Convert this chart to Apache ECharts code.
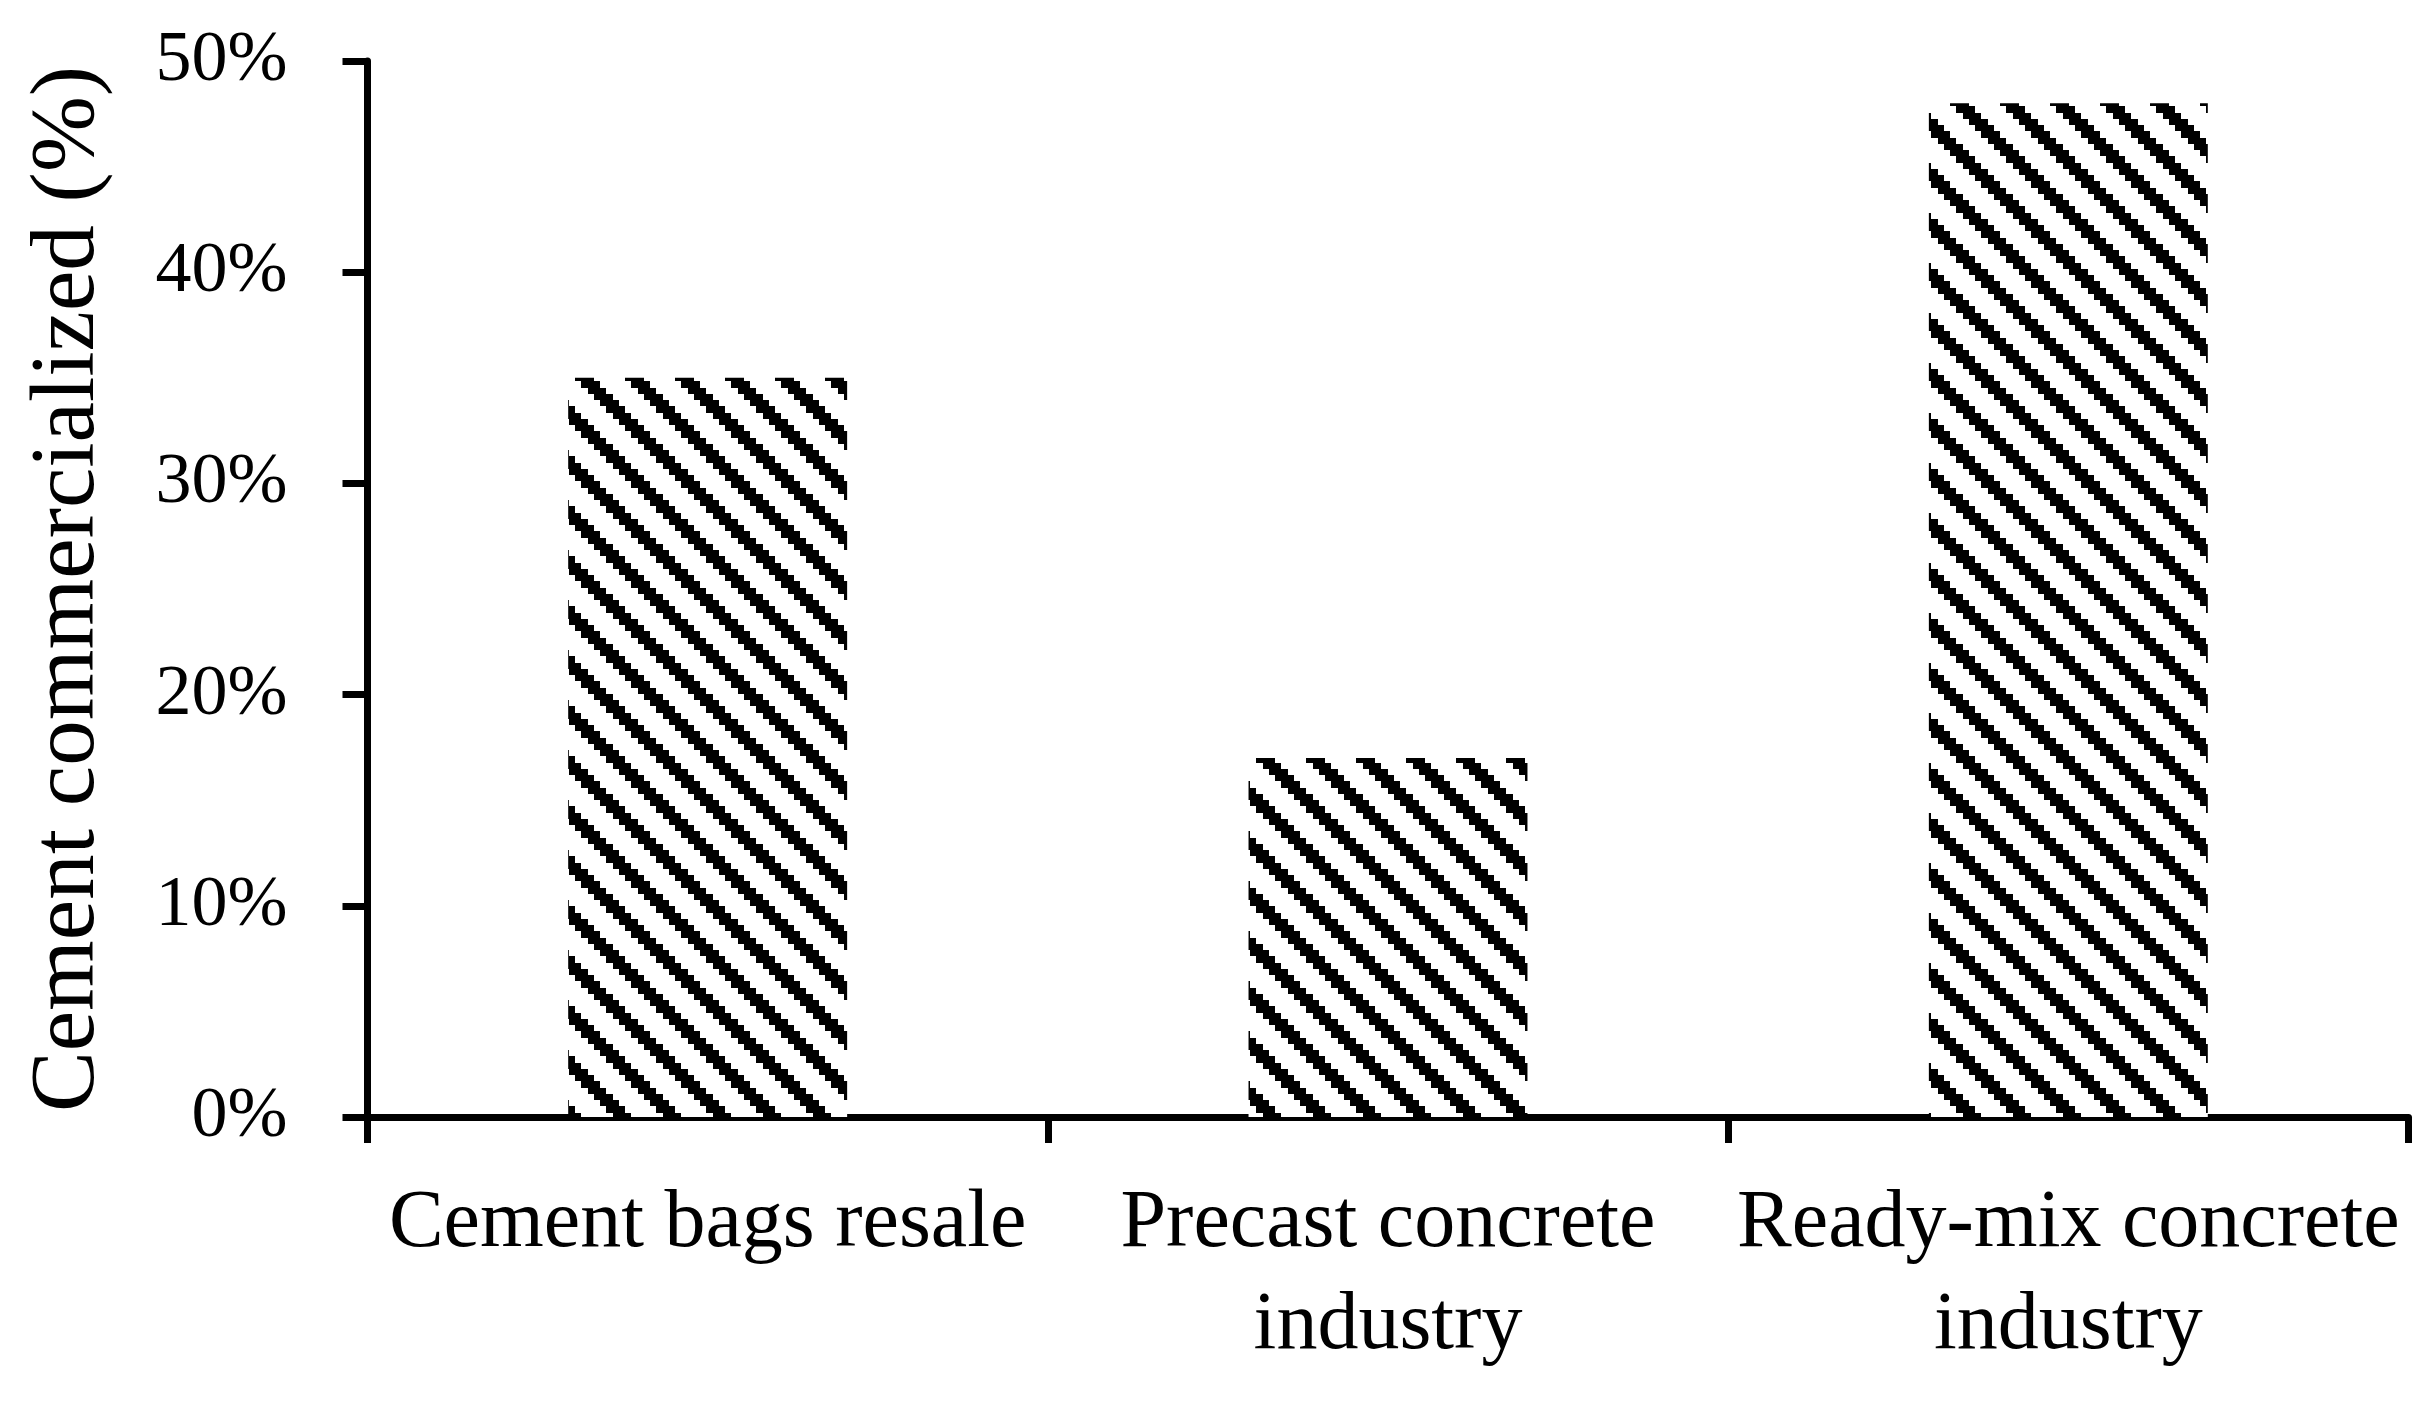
<!DOCTYPE html>
<html>
<head>
<meta charset="utf-8">
<script src="https://cdn.jsdelivr.net/npm/echarts@6/dist/echarts.min.js"></script>
<style>
html,body{margin:0;padding:0;background:#fff;}
#chart{width:2431px;height:1402px;}
</style>
</head>
<body>
<div id="chart"></div>
<script>
const categories = ['Cement bags resale', 'Precast concrete\nindustry', 'Ready-mix concrete\nindustry'];
const values = [35, 17, 48];
const yTicks = { min: 0, max: 50, interval: 10 };
const yAxisTitle = 'Cement commercialized (%)';

// Hatch pattern: 8x8 "wide downward diagonal" scaled up
function makeHatch() {
  const size = 50, n = 8, cell = size / n;
  const c = document.createElement('canvas');
  c.width = size; c.height = size;
  const ctx = c.getContext('2d');
  ctx.fillStyle = '#fff';
  ctx.fillRect(0, 0, size, size);
  ctx.fillStyle = '#000';
  for (let y = 0; y < n; y++) {
    for (let x = 0; x < n; x++) {
      const d = ((x - y) % n + n) % n;
      if (d < 3) {
        const x0 = Math.round(x * cell), x1 = Math.round((x + 1) * cell);
        const y0 = Math.round(y * cell), y1 = Math.round((y + 1) * cell);
        ctx.fillRect(x0, y0, x1 - x0, y1 - y0);
      }
    }
  }
  return c;
}

const chart = echarts.init(document.getElementById('chart'), null, { renderer: 'canvas' });
const serif = '"Liberation Serif", "Times New Roman", serif';
chart.setOption({
  backgroundColor: '#fff',
  animation: false,
  grid: { left: 367.5, right: 22.5, top: 61, bottom: 285, containLabel: false },
  xAxis: {
    type: 'category',
    data: categories,
    boundaryGap: true,
    axisLine: { lineStyle: { color: '#000', width: 7 } },
    axisTick: { show: true, alignWithLabel: false, length: 26, lineStyle: { color: '#000', width: 7 } },
    axisLabel: { color: '#000', fontFamily: serif, fontSize: 82, lineHeight: 102, margin: 56, interval: 0 },
    splitLine: { show: false }
  },
  yAxis: {
    type: 'value',
    min: yTicks.min, max: yTicks.max, interval: yTicks.interval,
    name: yAxisTitle,
    nameLocation: 'middle',
    nameRotate: 90,
    nameGap: 253,
    nameTextStyle: { color: '#000', fontFamily: serif, fontSize: 91 },
    axisLine: { show: true, lineStyle: { color: '#000', width: 7 } },
    axisTick: { show: true, length: 25, lineStyle: { color: '#000', width: 7 } },
    axisLabel: { color: '#000', fontFamily: serif, fontSize: 72, margin: 80, formatter: '{value}%' },
    splitLine: { show: false }
  },
  series: [{
    type: 'bar',
    data: values,
    barWidth: '41%',
    itemStyle: { color: { image: makeHatch(), repeat: 'repeat' } }
  }]
});
</script>
</body>
</html>
